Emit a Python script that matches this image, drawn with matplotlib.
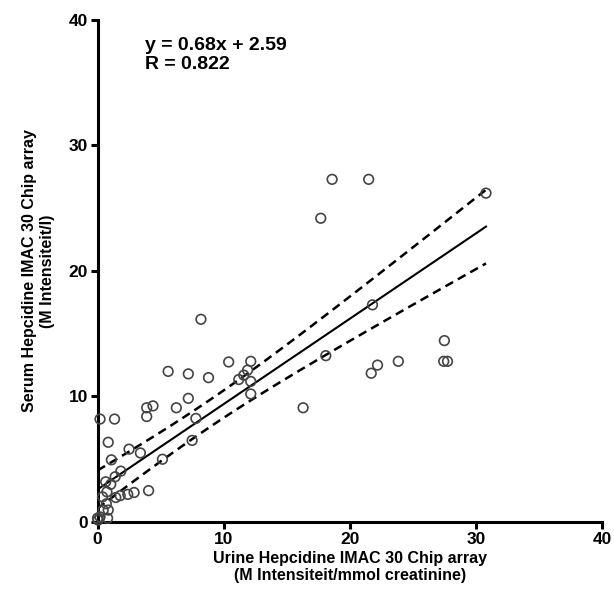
import numpy as np
import matplotlib.pyplot as plt

plt.rcParams['font.family'] = ['Liberation Sans', 'DejaVu Sans']
plt.rcParams['font.weight'] = 'bold'

# Data
urine = [30.8, 18.6, 21.5, 17.7, 21.8, 27.5, 18.1, 22.2, 23.85, 27.45, 27.75,
         21.7, 16.3, 8.2, 10.4, 12.15, 5.6, 7.2, 8.8, 11.9, 11.6, 11.2, 12.15,
         12.15, 7.2, 3.9, 4.4, 6.25, 3.9, 7.8, 0.2, 1.35, 7.5, 0.85, 2.5, 3.4,
         5.15, 1.1, 1.85, 1.4, 0.65, 1.05, 4.05, 2.9, 2.4, 1.8, 1.45, 0.75, 0.4,
         0.7, 0.45, 0.85, 0.2, 0.8, 0.05, 0.0]
serum = [26.2, 27.3, 27.3, 24.2, 17.3, 14.45, 13.25, 12.5, 12.8, 12.8, 12.8,
         11.85, 9.1, 16.15, 12.75, 12.8, 12.0, 11.8, 11.5, 12.1, 11.7, 11.35, 11.2,
         10.2, 9.85, 9.1, 9.25, 9.1, 8.4, 8.25, 8.2, 8.2, 6.5, 6.35, 5.8, 5.5,
         5.0, 4.95, 4.05, 3.6, 3.2, 3.0, 2.5, 2.35, 2.2, 2.1, 1.95, 2.4, 2.0,
         1.45, 0.95, 0.95, 0.4, 0.3, 0.15, 0.3]
slope = 0.68
intercept = 2.59
r_value = 0.822

x = np.array(urine)
y = np.array(serum)
n = len(x)

# Fit line and 95% confidence band of the mean
xs = np.linspace(x.min(), x.max(), 100)
fit = slope * xs + intercept
resid = y - (slope * x + intercept)
s = np.sqrt(np.sum(resid ** 2) / (n - 2))
sxx = np.sum((x - x.mean()) ** 2)
band = 1.9 * s * np.sqrt(1 / n + (xs - x.mean()) ** 2 / sxx)

fig = plt.figure(figsize=(6.14, 6.10), dpi=100)
ax = fig.add_axes([0.1588, 0.1443, 0.8217, 0.823])

ax.scatter(x, y, s=48, facecolors='none', edgecolors='#444444',
           linewidths=1.2, clip_on=False, zorder=3)
ax.plot(xs, fit, color='black', lw=1.5)
ax.plot(xs, fit + band, color='black', lw=1.8, ls=(0, (3.5, 2.2)))
ax.plot(xs, fit - band, color='black', lw=1.8, ls=(0, (3.5, 2.2)))

ax.text(3.8, 37.2, f"y = {slope}x + {intercept}\nR = {r_value}",
        fontsize=14, fontweight='bold', va='center', linespacing=1.2)

ax.set_xlim(0, 40)
ax.set_ylim(0, 40)
ax.set_xticks([0, 10, 20, 30, 40])
ax.set_yticks([0, 10, 20, 30, 40])
for side in ['top', 'right']:
    ax.spines[side].set_visible(False)
for side in ['left', 'bottom']:
    ax.spines[side].set_linewidth(2.2)
ax.tick_params(width=2.2, length=5, labelsize=12.5, pad=2)
for lab in ax.get_xticklabels() + ax.get_yticklabels():
    lab.set_fontweight('bold')

ax.set_xlabel("Urine Hepcidine IMAC 30 Chip array\n(M Intensiteit/mmol creatinine)",
              fontsize=11.5, fontweight='bold', labelpad=3)
ax.set_ylabel("Serum Hepcidine IMAC 30 Chip array\n(M Intensiteit/l)",
              fontsize=11.5, fontweight='bold', labelpad=10)

fig.savefig('out.png', dpi=100)
